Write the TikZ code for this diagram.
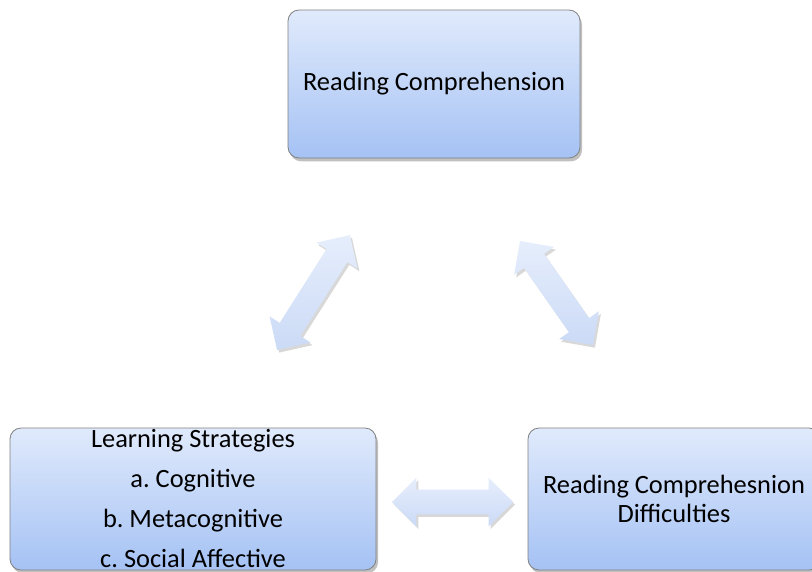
\documentclass[tikz,border=0pt]{standalone}
\usepackage{fontspec}
\setmainfont{Carlito}
\usepackage{tikz}
\usetikzlibrary{shapes, shapes.arrows, shadows, positioning}
\frenchspacing

\newcommand\pxu{0.75pt}

\tikzset{
  box/.style={draw=black!50, line width=0.6pt, rounded corners=11*\pxu,
    top color=boxtop, bottom color=boxbot, align=center, inner sep=0pt,
    font=\fontsize{19.8}{30}\selectfont,
    drop shadow={shadow xshift=1.5pt, shadow yshift=-2.5pt, opacity=0.35, fill=black!70}},
  biarrow/.style={shape=double arrow, double arrow tip angle=90,
    double arrow head extend=12*\pxu, inner xsep=0pt, inner ysep=12*\pxu,
    top color=arrtop, bottom color=arrbot, draw=none,
    drop shadow={shadow xshift=1.5pt, shadow yshift=-2pt, opacity=0.25, fill=black!60}}
}
\definecolor{boxtop}{HTML}{E0EAFC}
\definecolor{boxbot}{HTML}{A5C2F4}
\definecolor{arrtop}{HTML}{E6EEFC}
\definecolor{arrbot}{HTML}{CBDAF6}

\begin{document}
\begin{tikzpicture}[x=0.75pt, y=-0.75pt]
    \clip (0,0) rectangle (812,571);
    \fill[white] (0,0) rectangle (812,571);

    % Boxes
    \node[box, minimum width=292*\pxu, minimum height=148*\pxu] (rc) at (434,84) {Reading Comprehension};
    \node[box, minimum width=366*\pxu, minimum height=142*\pxu] (ls) at (193,499)
        {Learning Strategies\\ a. Cognitive\\ b. Metacognitive\\ c. Social Affective};
    \node[box, minimum width=292*\pxu, minimum height=142*\pxu, font=\fontsize{19.8}{22}\selectfont] (rd) at (674,499)
        {Reading Comprehesnion\\ Difficulties};

    % Two-way arrows between the boxes
    \node[biarrow, minimum height=136*\pxu, rotate=57.6] (ls_rc) at (313.5,292.5) {};
    \node[biarrow, minimum height=127*\pxu, rotate=-55] (rc_rd) at (556.5,293) {};
    \node[biarrow, minimum height=121*\pxu] (ls_rd) at (452.5,502) {};

\end{tikzpicture}
\end{document}
